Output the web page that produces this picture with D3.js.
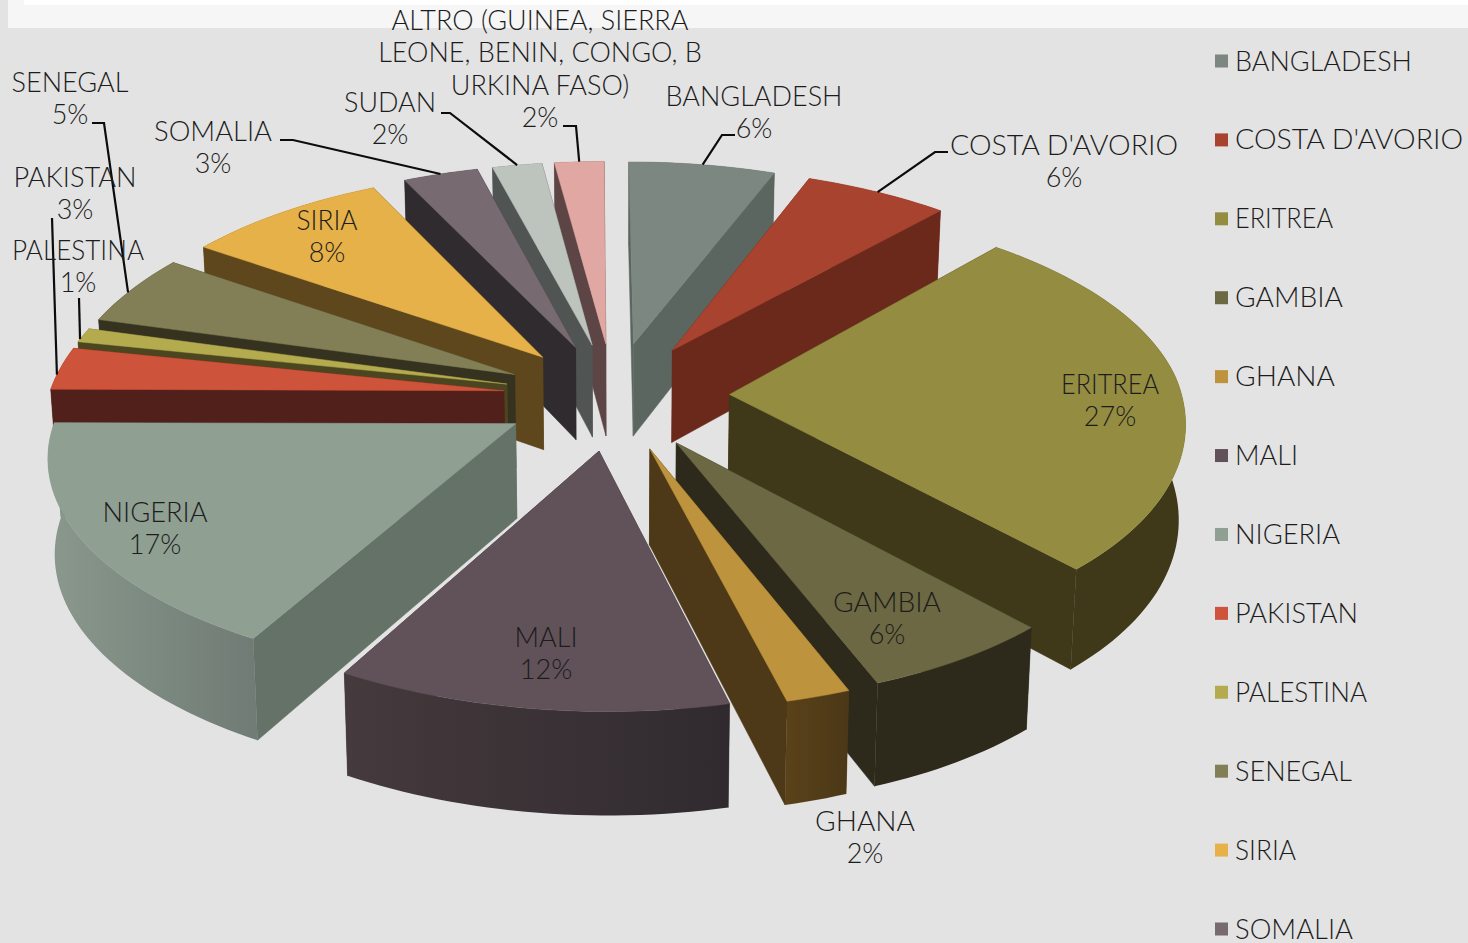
<!DOCTYPE html>
<html>
<head>
<meta charset="utf-8">
<script src="https://cdn.jsdelivr.net/npm/d3@7/dist/d3.min.js"></script>
<style>
  html, body { margin: 0; padding: 0; background: #e3e3e3; overflow: hidden; }
  svg { display: block; }
  text { font-family: "Lato", "Noto Sans", sans-serif; font-weight: 300; fill: #1c1c1c; }
</style>
</head>
<body>
<svg id="chart" width="1468" height="943"></svg>
<script>
// Country shares, clockwise from twelve o'clock
const countries = ["BANGLADESH", "COSTA D'AVORIO", "ERITREA", "GAMBIA", "GHANA", "MALI", "NIGERIA",
  "PAKISTAN", "PALESTINA", "SENEGAL", "SIRIA", "SOMALIA", "SUDAN", "ALTRO (GUINEA, SIERRA LEONE, BENIN, CONGO, BURKINA FASO)"];
const shares = [6, 6, 27, 6, 2, 12, 17, 3, 1, 5, 8, 3, 2, 2];

// Legend entries; the final category falls below the visible area
const legendEntries = countries.slice(0, 12);

// Set widths of the country names
const nameWidths = [177, 228, 98, 108, 100, 63, 105, 123, 132, 117, 61, 118, 92, null];

// Surface colours per slice
const topColors = ["#7b8780", "#a8432f", "#948d41", "#6b6843", "#bd933d", "#605258", "#8f9f92",
  "#ce533b", "#b4ab4e", "#827e55", "#e6b149", "#776a71", "#bcc4bd", "#e0a7a3"];
const wallColors = ["#5b6660", "#6b291b", "#3f3819", "#2d2a1c", "#4d3917", "#3f3438", "#657268",
  "#52201a", "#4c4620", "#35321f", "#5e471c", "#2f2b2e", "#505553", "#5e4545"];
const rimLeft = ["#5b6660", "#6b291b", "#3f3819", "#2d2a1c", "#5a4219", "#453a3e", "#8a988d",
  "#52201a", "#4c4620", "#35321f", "#5e471c", "#2f2b2e", "#505553", "#5e4545"];
const rimRight = ["#5b6660", "#6b291b", "#3f3819", "#2d2a1c", "#4b3817", "#302a2e", "#6f7b74",
  "#52201a", "#4c4620", "#35321f", "#5e471c", "#2f2b2e", "#505553", "#5e4545"];

// Label text lines and their placement [centre x, centre y of first line]
const labelLines = [["BANGLADESH"], ["COSTA D'AVORIO"], ["ERITREA"], ["GAMBIA"], ["GHANA"], ["MALI"], ["NIGERIA"],
  ["PAKISTAN"], ["PALESTINA"], ["SENEGAL"], ["SIRIA"], ["SOMALIA"], ["SUDAN"],
  ["ALTRO (GUINEA, SIERRA", "LEONE, BENIN, CONGO, B", "URKINA FASO)"]];
const labelAnchors = [[754, 95], [1064, 144], [1110, 383], [887, 601], [865, 820], [546, 636], [155, 511],
  [75, 176], [78, 249], [70, 81], [327, 219], [213, 130], [390, 101], [540, 19]];

// Leader lines start beside a label and run to the slice's outer edge (null = none)
const leaderStarts = [
  [[735, 135], [722, 135]], [[948, 152], [935, 152]], null, null, null, null, null,
  [[52, 218]], [[79, 298]], [[92, 123], [104, 123]], null,
  [[280, 140], [293, 140]], [[441, 113], [450, 113]], [[563, 126], [576, 126]]];
// Fraction of the slice's angular span where its leader lands
const leaderAt = [0.5, 0.5, 0.5, 0.5, 0.5, 0.5, 0.5, 0.35, 0.2, 0.45, 0.5, 0.5, 0.5, 0.5];

// 3D pie view: oblique perspective with a slight roll
const view = { cx: 616.2, cy: 396, rx: 453.4, ry: 215.5, persp: 0.118, depth: 94, depthFall: 0.085,
  shearLin: -16, shearFront: 12.8, shearBack: 9, bowX: -4, roll: -13, twist: 10, converge: 0.012, explode: 0.25 };

const project = ([x, y], z = 0) => {
  const w = 1 + view.persp * y;
  const h = view.depth * z * (1 - view.depthFall * y);
  const px = view.rx * x / w + view.shearLin * y + (y < 0 ? view.shearFront : view.shearBack) * y * y + view.bowX * x * x;
  const py = -view.ry * y / w + view.roll * x + view.twist * x * Math.max(y, 0);
  return [view.cx + px * (1 - view.converge * z), view.cy + py + h];
};

const svg = d3.select("#chart");
const defs = svg.append("defs");

// Backdrop with the pale strip along the top edge
svg.append("rect").attr("width", 1468).attr("height", 943).attr("fill", "#e3e3e3");
svg.append("rect").attr("x", 8).attr("y", 0).attr("width", 1460).attr("height", 28).attr("fill", "#f6f6f6");
svg.append("rect").attr("x", 24).attr("y", 0).attr("width", 1444).attr("height", 5).attr("fill", "#ffffff");

const pie = d3.pie().sort(null).value(d => d)(shares);
const line = d3.line();

const slices = pie.map((p, i) => {
  const mid = (p.startAngle + p.endAngle) / 2;
  const off = [view.explode * Math.sin(mid), view.explode * Math.cos(mid)];
  const at = a => [off[0] + Math.sin(a), off[1] + Math.cos(a)];
  const steps = Math.max(6, Math.ceil((p.endAngle - p.startAngle) * 40));
  const angles = d3.range(steps + 1).map(k => d3.interpolateNumber(p.startAngle, p.endAngle)(k / steps));
  return { i, mid, off, at, angles, p, order: Math.cos(mid) };
});

// Back slices first so nearer ones overlap them
slices.slice().sort((a, b) => d3.descending(a.order, b.order)).forEach(s => {
  const g = svg.append("g");
  const rim = s.angles.map(s.at);
  const apex = s.off;
  const startEdge = [apex, rim[0]];
  const endEdge = [apex, rim[rim.length - 1]];

  const wall = edge => line(edge.map(q => project(q, 0)).concat(edge.slice().reverse().map(q => project(q, 1)))) + "Z";

  // Cut faces, farther one first
  const faces = [startEdge, endEdge]
    .sort((a, b) => d3.descending(a[1][1], b[1][1]));
  faces.forEach(f => g.append("path").attr("d", wall(f)).attr("fill", wallColors[s.i])
    .attr("stroke", wallColors[s.i]).attr("stroke-width", 0.5));

  // Curved outer wall with a left-to-right shade
  const gid = "rim" + s.i;
  const grad = defs.append("linearGradient").attr("id", gid);
  grad.append("stop").attr("offset", "0%").attr("stop-color", rimLeft[s.i]);
  grad.append("stop").attr("offset", "100%").attr("stop-color", rimRight[s.i]);
  g.append("path").attr("d", wall(rim)).attr("fill", `url(#${gid})`);

  // Top surface
  g.append("path")
    .attr("d", line([apex, ...rim].map(q => project(q, 0))) + "Z")
    .attr("fill", topColors[s.i]).attr("stroke", topColors[s.i]).attr("stroke-width", 0.5);
});

// Leader lines
slices.forEach(s => {
  const start = leaderStarts[s.i];
  if (!start) return;
  const a = s.p.startAngle + (s.p.endAngle - s.p.startAngle) * leaderAt[s.i];
  svg.append("path")
    .attr("d", line([...start, project(s.at(a), 0)]))
    .attr("fill", "none").attr("stroke", "#0c0c0c").attr("stroke-width", 2.2);
});

const setWidth = (sel, w) => { if (w) sel.attr("textLength", w).attr("lengthAdjust", "spacingAndGlyphs"); return sel; };

// Slice labels: name lines followed by the percentage
const lineStep = 32.5;
labelLines.forEach((lines, i) => {
  const [x, y] = labelAnchors[i];
  lines.forEach((t, k) => {
    const el = svg.append("text").attr("x", x).attr("y", y + k * lineStep)
      .attr("text-anchor", "middle").attr("dominant-baseline", "central")
      .attr("font-size", 27).text(t);
    if (lines.length === 1) setWidth(el, nameWidths[i]);
  });
  svg.append("text").attr("x", x).attr("y", y + lines.length * lineStep)
    .attr("text-anchor", "middle").attr("dominant-baseline", "central")
    .attr("font-size", 27).text(shares[i] + "%");
});

// Legend
const legendY = d3.scalePoint().domain(legendEntries).range([60, 928]);
legendEntries.forEach((name, i) => {
  const y = legendY(name);
  svg.append("rect").attr("x", 1215).attr("y", y - 5.5).attr("width", 13).attr("height", 13)
    .attr("fill", topColors[i]);
  setWidth(svg.append("text").attr("x", 1235).attr("y", y).attr("dominant-baseline", "central")
    .attr("font-size", 27).text(name), nameWidths[i]);
});
</script>
</body>
</html>
